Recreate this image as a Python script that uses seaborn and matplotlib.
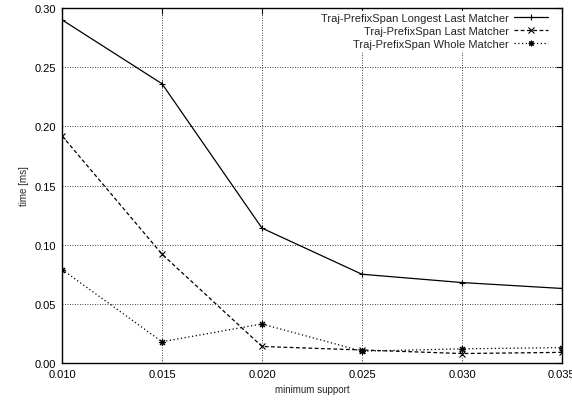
import numpy as np
import pandas as pd
import matplotlib
matplotlib.use("Agg")
import matplotlib.pyplot as plt
import seaborn as sns

sns.set_style("white")
plt.rcParams['font.family'] = ['Liberation Sans', 'DejaVu Sans']

# values
support = [0.010, 0.015, 0.020, 0.025, 0.030, 0.035]
longest_last = [0.290, 0.236, 0.114, 0.075, 0.068, 0.063]
last_matcher = [0.192, 0.092, 0.014, 0.011, 0.008, 0.009]
whole_matcher = [0.079, 0.018, 0.033, 0.010, 0.012, 0.013]

names = ["Traj-PrefixSpan Longest Last Matcher",
         "Traj-PrefixSpan Last Matcher",
         "Traj-PrefixSpan Whole Matcher"]

df = pd.DataFrame({
    "support": support * 3,
    "time": longest_last + last_matcher + whole_matcher,
    "method": [names[0]] * 6 + [names[1]] * 6 + [names[2]] * 6,
})

fig = plt.figure(figsize=(5.72, 4.02), dpi=100)
ax = fig.add_axes([0.1084, 0.0945, 0.874, 0.8831])

sns.lineplot(data=df, x="support", y="time", hue="method", style="method",
             palette=["black"] * 3,
             dashes={names[0]: "", names[1]: (3, 2), names[2]: (1, 2)},
             markers={names[0]: "+", names[1]: "x", names[2]: (8, 2, 0)},
             markersize=5, markeredgewidth=0.8, markeredgecolor="black",
             linewidth=0.9, ax=ax)

ax.set_xlim(0.010, 0.035)
ax.set_ylim(0.0, 0.30)
ax.set_xticks(support)
ax.set_xticklabels([f"{v:.3f}" for v in support])
ax.set_yticks(np.arange(0, 0.31, 0.05))
ax.set_yticklabels([f"{v:.2f}" for v in np.arange(0, 0.31, 0.05)])
ax.tick_params(direction="in", top=True, right=True, labelsize=8, length=4,
               width=0.8, pad=4, color="black", labelcolor="black")
ax.grid(True, linestyle=(0, (1, 2)), color="black", linewidth=0.6)
for s in ax.spines.values():
    s.set_color("black")
    s.set_linewidth(1.0)

ax.set_xlabel("minimum support", fontsize=7)
ax.set_ylabel("time [ms]", fontsize=7)

leg = ax.legend(loc="upper right", bbox_to_anchor=(0.978, 0.995),
                frameon=True, fontsize=8, markerfirst=False,
                handlelength=3, borderaxespad=0.1, borderpad=0.2,
                labelspacing=0.25, handletextpad=0.5, fancybox=False,
                edgecolor="white", framealpha=1.0)
for h in leg.legend_handles:
    h.set_markeredgecolor("black")
    h.set_markersize(4)

fig.savefig("out.png", dpi=100)
